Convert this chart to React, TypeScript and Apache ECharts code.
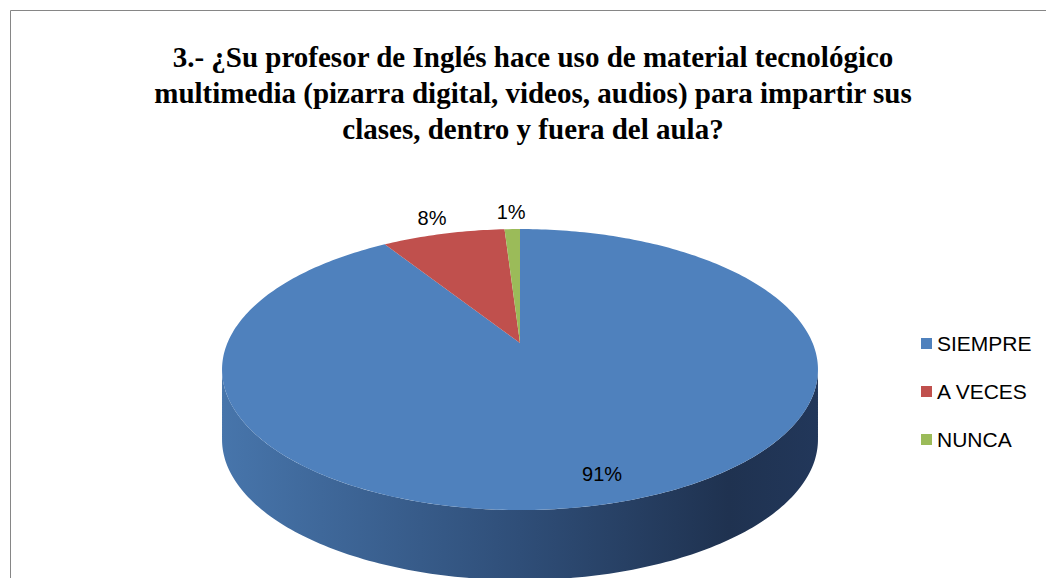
import React, { useEffect, useRef } from "react";
import * as echarts from "echarts";

const categories = ["SIEMPRE", "A VECES", "NUNCA"];
const values = [91, 8, 1];
const colors = ["#4f81bd", "#c0504d", "#9bbb59"];
const titleLines = [
  "3.- ¿Su profesor de Inglés hace uso de material tecnológico",
  "multimedia (pizarra digital, videos, audios) para impartir sus",
  "clases, dentro y fuera del aula?",
];

// perspective projection of a tilted disc
const CX = 520;
const CY = 343;
const A = 292.6;
const B = 135.5;
const K = 0.189;
const DEPTH = 70;

function pt(deg: number, dy = 0, scale = 1): number[] {
  const r = (deg * Math.PI) / 180;
  const u = scale * Math.sin(r);
  const v = scale * Math.cos(r);
  const w = 1 + K * v;
  return [CX + (A * u) / w, CY - (B * v) / w + dy];
}

function arc(a0: number, a1: number, dy = 0): number[][] {
  const pts: number[][] = [];
  const n = Math.max(2, Math.ceil(Math.abs(a1 - a0)));
  for (let k = 0; k <= n; k++) pts.push(pt(a0 + ((a1 - a0) * k) / n, dy));
  return pts;
}

export default function App() {
  const ref = useRef<HTMLDivElement>(null);
  useEffect(() => {
    document.body.style.margin = "0";
    const chart = echarts.init(ref.current!, null, { renderer: "svg" });
    const total = values.reduce((a, b) => a + b, 0);
    const starts: number[] = [];
    let acc = 0;
    values.forEach((v) => {
      starts.push(acc);
      acc += v;
    });
    const sil = (Math.acos(-K) * 180) / Math.PI;
    const series = categories.map((name, i) => ({
      type: "custom",
      name,
      coordinateSystem: "none",
      itemStyle: { color: colors[i] },
      data: [[values[i]]],
      renderItem: () => {
        const a0 = (starts[i] / total) * 360;
        const a1 = ((starts[i] + values[i]) / total) * 360;
        const children: any[] = [];
        const s0 = Math.max(a0, sil);
        const s1 = Math.min(a1, 360 - sil);
        if (s1 > s0) {
          const top = arc(s0, s1);
          const bottom = arc(s1, s0, DEPTH);
          children.push({
            type: "polygon",
            z2: 1,
            shape: { points: top.concat(bottom) },
            style: {
              fill: new echarts.graphic.LinearGradient(1, 0, 0, 0, [
                { offset: 0, color: "#22375a" },
                { offset: 0.15, color: "#1f3250" },
                { offset: 0.5, color: "#2f4e78" },
                { offset: 1, color: "#4775ab" },
              ]),
            },
          });
        }
        children.push({
          type: "polygon",
          z2: 5,
          shape: { points: [[CX, CY]].concat(arc(a0, a1)) },
          style: { fill: colors[i] },
        });
        const mid = (a0 + a1) / 2;
        const pct = Math.round((values[i] / total) * 100) + "%";
        const inside = values[i] / total > 0.5;
        const lp = inside ? pt(mid, 0, 0.85) : pt(mid, 0, 1.18);
        children.push({
          type: "text",
          z2: 10,
          x: lp[0],
          y: lp[1],
          style: {
            text: pct,
            fill: "#000",
            fontSize: 20,
            fontFamily: "Liberation Sans",
            align: "center",
            verticalAlign: "middle",
          },
        });
        return { type: "group", children };
      },
    }));
    chart.setOption({
      animation: false,
      backgroundColor: "#ffffff",
      title: {
        text: titleLines.join("\n"),
        left: 528,
        top: 34,
        textAlign: "center",
        textStyle: {
          fontFamily: "Liberation Serif",
          fontWeight: "bold",
          fontSize: 29,
          lineHeight: 36,
          color: "#000",
        },
      },
      legend: {
        orient: "vertical",
        left: 916,
        top: 328,
        itemWidth: 11,
        itemHeight: 11,
        itemGap: 27,
        icon: "rect",
        data: categories,
        textStyle: { fontFamily: "Liberation Sans", fontSize: 21, color: "#000" },
      },
      graphic: [
        {
          type: "rect",
          shape: { x: 10.5, y: 10.5, width: 1100, height: 700 },
          style: { fill: "none", stroke: "#868686", lineWidth: 1 },
          silent: true,
        },
      ],
      series,
    });
    return () => chart.dispose();
  }, []);
  return <div ref={ref} style={{ width: 1046, height: 578 }} />;
}
